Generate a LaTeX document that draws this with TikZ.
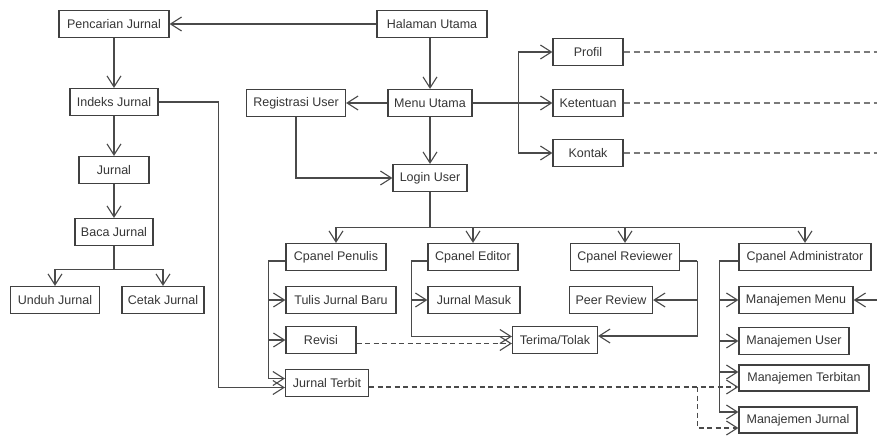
\documentclass[tikz,border=0pt]{standalone}
\usepackage{fontspec}
\setmainfont{Liberation Sans}
\usetikzlibrary{arrows.meta}
\usetikzlibrary{shadows}

\definecolor{linegray}{HTML}{4A4A4A}
\definecolor{boxgray}{HTML}{404040}
\definecolor{textgray}{HTML}{363636}
\definecolor{dashgray}{HTML}{7A7A7A}

\begin{document}
\begin{tikzpicture}[x=1pt,y=-1pt,
		box/.style={rectangle,draw=boxgray,line width=1.2pt,fill=white,minimum height=27pt,inner xsep=3pt,text=textgray,font=\fontsize{12.5}{14}\selectfont,drop shadow={shadow xshift=0.9pt,shadow yshift=-0.9pt,opacity=0.35}},
		link/.style={draw=linegray,line width=1.1pt},
		arr/.style={link,-{Straight Barb[length=11pt,width=14pt]}},
		dasharr/.style={arr,dash pattern=on 5pt off 3.5pt},
		dashline/.style={draw=dashgray,line width=1.5pt,dash pattern=on 6.5pt off 3.5pt}]
		\useasboundingbox (0,0) rectangle (877,436);
		\coordinate (rightedge) at (877,0);

		\node[box,minimum width=110pt] (pencarian) at (114,24) {Pencarian Jurnal};
		\node[box,minimum width=110pt] (halaman) at (432,24) {Halaman Utama};
		\node[box,minimum width=88pt] (indeks) at (114,102) {Indeks Jurnal};
		\node[box,minimum width=99pt] (regis) at (296,103) {Registrasi User};
		\node[box,minimum width=84pt] (menu) at (430,103) {Menu Utama};
		\node[box,minimum width=74pt] (login) at (430,178) {Login User};
		\node[box,minimum width=70pt] (profil) at (588,52) {Profil};
		\node[box,minimum width=70pt] (ketentuan) at (588,103) {Ketentuan};
		\node[box,minimum width=70pt] (kontak) at (588,153) {Kontak};
		\node[box,minimum width=70pt] (jurnal) at (114,170) {Jurnal};
		\node[box,minimum width=78pt] (baca) at (114,232) {Baca Jurnal};
		\node[box,minimum width=89pt] (unduh) at (55,300) {Unduh Jurnal};
		\node[box,minimum width=82pt] (cetak) at (163,300) {Cetak Jurnal};

		\node[box,minimum width=100pt] (penulis) at (336,257) {Cpanel Penulis};
		\node[box,minimum width=110pt] (tulis) at (341,300) {Tulis Jurnal Baru};
		\node[box,minimum width=70pt] (revisi) at (321,340) {Revisi};
		\node[box,minimum width=83pt] (terbit) at (327,383) {Jurnal Terbit};
		\node[box,minimum width=90pt] (editor) at (473,257) {Cpanel Editor};
		\node[box,minimum width=92pt] (masuk) at (474,300) {Jurnal Masuk};
		\node[box,minimum width=85pt] (terima) at (555,340) {Terima/Tolak};
		\node[box,minimum width=109pt] (reviewer) at (625,257) {Cpanel Reviewer};
		\node[box,minimum width=83pt] (peer) at (611,300) {Peer Review};
		\node[box,minimum width=132pt] (admin) at (805,257) {Cpanel Administrator};
		\node[box,minimum width=114pt] (mmenu) at (796,300) {Manajemen Menu};
		\node[box,minimum width=110pt] (muser) at (794,341) {Manajemen User};
		\node[box,minimum width=130pt,minimum height=26pt] (mterbitan) at (804,378) {Manajemen Terbitan};
		\node[box,minimum width=118pt,minimum height=26pt] (mjurnal) at (798,420) {Manajemen Jurnal};

		\draw[arr] (halaman.west) -- (pencarian.east);
		\draw[arr] (pencarian.south) -- (indeks.north);
		\draw[arr] (indeks.south) -- (jurnal.north);
		\draw[arr] (jurnal.south) -- (baca.north);
		\draw[link] (baca.south) -- ++(0,23.5) coordinate (bacafork);
		\draw[arr] (bacafork) -| (unduh.north);
		\draw[arr] (bacafork) -| (cetak.north);

		\draw[arr] (halaman.south -| menu.north) -- (menu.north);
		\draw[arr] (menu.west) -- (regis.east);
		\draw[arr] (regis.south) |- (login.west);
		\draw[arr] (menu.south) -- (login.north);
		\draw[arr] (menu.east) -- (ketentuan.west);
		\draw[arr] ([xshift=-34pt]ketentuan.west) |- (profil.west);
		\draw[arr] ([xshift=-34pt]ketentuan.west) |- (kontak.west);
		\draw[dashline] (profil.east) -- (profil.east -| rightedge);
		\draw[dashline] (ketentuan.east) -- (ketentuan.east -| rightedge);
		\draw[dashline] (kontak.east) -- (kontak.east -| rightedge);

		\draw[link] (login.south) -- ++(0,35) coordinate (loginfork);
		\draw[arr] (loginfork) -| (penulis.north);
		\draw[arr] (loginfork) -| (editor.north);
		\draw[arr] (loginfork) -| (reviewer.north);
		\draw[arr] (loginfork) -| (admin.north);

		\coordinate (terbitin) at ([yshift=4.5pt]terbit.west);
		\coordinate (terbitlow) at ([yshift=-4.5pt]terbit.west);
		\draw[link] ([yshift=-4pt]penulis.west) -- ++(-17,0) coordinate (penfork);
		\draw[arr] (penfork) |- (tulis.west);
		\draw[arr] (penfork) |- (revisi.west);
		\draw[arr] (penfork) |- (terbitin);
		\draw[arr] (indeks.east) -- ++(60,0) |- (terbitlow);

		\coordinate (terimain) at ([yshift=3.5pt]terima.west);
		\coordinate (revisiout) at ([yshift=-3.5pt]revisi.east);
		\draw[link] ([yshift=-4pt]editor.west) -- ++(-16,0) coordinate (edfork);
		\draw[arr] (edfork) |- (masuk.west);
		\draw[arr] (edfork) |- (terimain);
		\draw[dasharr] (revisiout) -- (revisiout -| terima.west);

		\coordinate (terimaright) at ([yshift=4pt]terima.east);
		\draw[link] ([yshift=-4pt]reviewer.east) -- ++(17,0) coordinate (revfork);
		\draw[arr] (revfork) |- (peer.east);
		\draw[arr] (revfork) |- (terimaright);

		\coordinate (mterbitanin) at ([yshift=6pt]mterbitan.west);
		\coordinate (mjurnalin) at ([yshift=8pt]mjurnal.west);
		\draw[link] ([yshift=-4pt]admin.west) -- ++(-19,0) coordinate (admfork);
		\draw[arr] (admfork) |- (mmenu.west);
		\draw[arr] (admfork) |- (muser.west);
		\draw[arr] (admfork) |- (mterbitanin);
		\draw[arr] (admfork) |- (mjurnalin);
		\draw[arr] (mmenu.east -| rightedge) -- (mmenu.east);

		\coordinate (terbitout) at ([yshift=-4pt]terbit.east);
		\draw[dasharr] (terbitout) -- (terbitout -| mterbitan.west);
		\draw[dasharr] (terbitout -| revfork) |- ([yshift=-8pt]mjurnal.west);
\end{tikzpicture}
\end{document}
